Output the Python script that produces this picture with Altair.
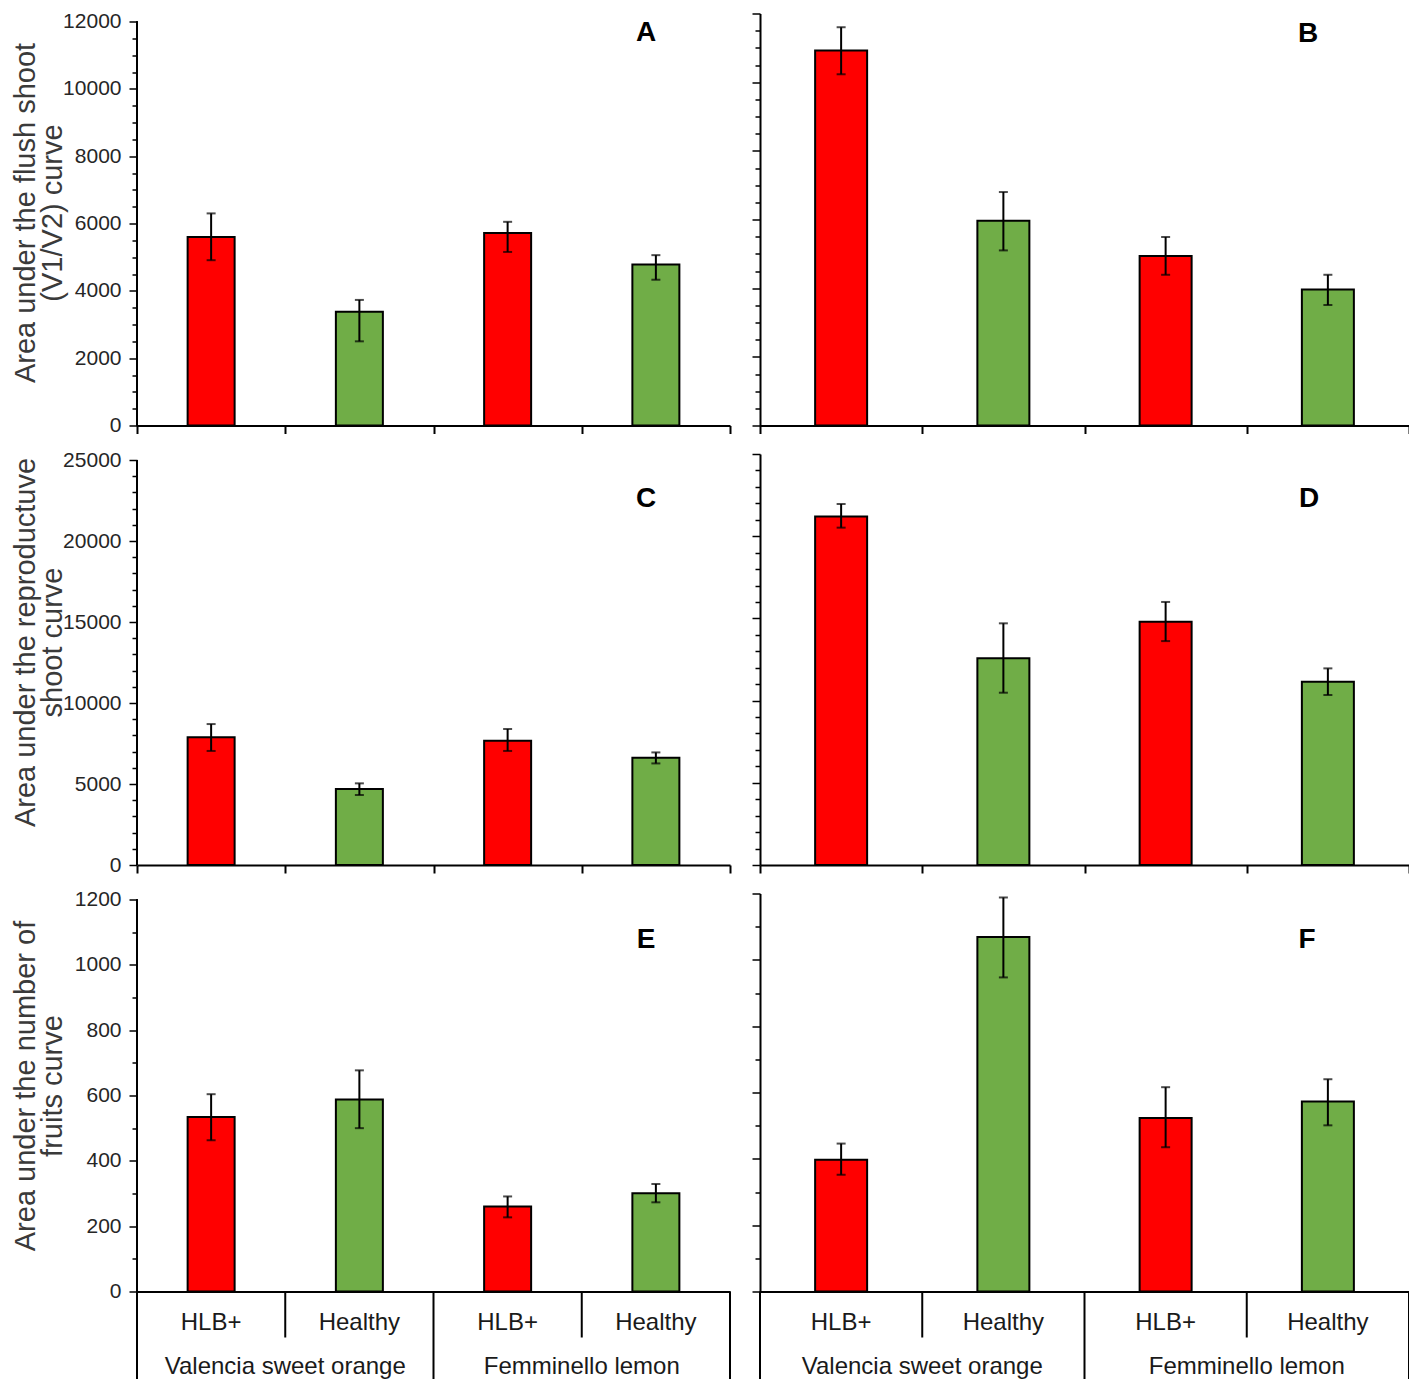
import altair as alt
import pandas as pd

# ---------------- data ----------------
treatments = ["HLB+", "Healthy", "HLB+", "Healthy"]
species = ["Valencia sweet orange", "Femminello lemon"]
bar_pos = [0.5, 1.5, 2.5, 3.5]
species_pos = [1, 3]
long_bounds = [0, 2, 4]
short_bounds = [1, 3]
x_bounds = [0, 1, 2, 3, 4]

A_mean = [5600, 3380, 5720, 4780]
A_lo = [4910, 2500, 5155, 4330]
A_hi = [6300, 3730, 6050, 5060]

B_mean = [10920, 5960, 4940, 3960]
B_lo = [10230, 5100, 4390, 3510]
B_hi = [11600, 6800, 5490, 4390]

C_mean = [7880, 4690, 7675, 6625]
C_lo = [7040, 4320, 7040, 6270]
C_hi = [8700, 5040, 8395, 6950]

D_mean = [21200, 12580, 14790, 11140]
D_lo = [20520, 10480, 13620, 10340]
D_hi = [21960, 14700, 16000, 11960]

E_mean = [534, 588, 260, 301]
E_lo = [463, 500, 227, 273]
E_hi = [604, 677, 291, 329]

F_mean = [397, 1069, 523, 573]
F_lo = [352, 947, 435, 501]
F_hi = [446, 1188, 616, 640]

row_max = [12000, 25000, 1200]
row_major = [2000, 5000, 200]
row_minor = [500, 1000, 100]
row_titles = [
    ["Area under the flush shoot", "(V1/V2) curve"],
    ["Area under the reproductuve", "shoot curve"],
    ["Area under the number of", "fruits curve"],
]
letters = [["A", "B"], ["C", "D"], ["E", "F"]]

# ---------------- style ----------------
FONT = "Liberation Sans"
RED = "#FF0000"
GREEN = "#70AD47"
ROW_H = [412, 411, 398]
LEFT_W, RIGHT_W = 593, 649
LEFT_TOP = [8, 6, 6]          # left axis starts this many px below the row top
TITLE_Y = [199, 188, 192]
LETTER_X = [[509, 548], [509, 549], [509, 547]]
LETTER_Y = [[27, 28], [53, 53], [54, 54]]


def panel(mean, lo, hi, r, left, bottom):
    H = ROW_H[r]
    W = LEFT_W if left else RIGHT_W
    barw = 47 if left else 52
    c = 0 if left else 1
    ymax, major, minor = row_max[r], row_major[r], row_minor[r]
    df = pd.DataFrame({"pos": bar_pos, "treat": treatments, "mean": mean, "lo": lo, "hi": hi})

    top_dom = ymax * H / (H - LEFT_TOP[r]) if left else ymax
    xs = alt.Scale(domain=[0, 4], nice=False, zero=False, padding=0)
    ys = alt.Scale(domain=[0, top_dom], nice=False, padding=0)

    y_kw = dict(
        values=list(range(0, ymax + 1, minor)),
        tickSize={"condition": {"test": f"datum.value % {major} === 0", "value": 8}, "value": 5},
        tickColor="black",
        tickWidth=1.5,
        grid=False,
    )
    if left:
        y_kw.update(
            domain=False,
            labelExpr=f"datum.value % {major} === 0 ? datum.label : ''",
            labelOverlap=False,
            format="d",
            labelFontSize=21,
            labelFont=FONT,
            labelColor="#262626",
            labelPadding=8,
            titleFontSize=29,
            titleFont=FONT,
            titleFontWeight="normal",
            titleColor="#3a3a3a",
            titleAngle=270,
            titleX=-111.5,
            titleY=TITLE_Y[r],
            titleAlign="center",
            titleBaseline="middle",
            titleLineHeight=27,
        )
        ytitle = row_titles[r]
    else:
        y_kw.update(labels=False, domainColor="black", domainWidth=2)
        ytitle = None
    yaxis = alt.Axis(**y_kw)

    x_kw = dict(values=x_bounds, labels=False, domainColor="black", domainWidth=2, grid=False)
    if bottom:
        x_kw["ticks"] = False
    else:
        x_kw.update(tickSize=8, tickColor="black", tickWidth=2)
    xaxis = alt.Axis(**x_kw)

    X = alt.X("pos:Q", scale=xs, axis=xaxis, title=None)
    base = alt.Chart(df)
    bars = base.mark_bar(size=barw, stroke="black", strokeWidth=2).encode(
        x=X,
        y=alt.Y("mean:Q", scale=ys, axis=yaxis, title=ytitle),
        color=alt.Color("treat:N", scale=alt.Scale(domain=["HLB+", "Healthy"], range=[RED, GREEN]), legend=None),
    )
    err = base.mark_rule(color="black", strokeWidth=2).encode(
        x=X, y=alt.Y("lo:Q", scale=ys, axis=yaxis, title=ytitle), y2="hi:Q"
    )
    cap_lo = base.mark_tick(orient="horizontal", size=9, thickness=2, color="black").encode(
        x=X, y=alt.Y("lo:Q", scale=ys, axis=yaxis, title=ytitle)
    )
    cap_hi = base.mark_tick(orient="horizontal", size=9, thickness=2, color="black").encode(
        x=X, y=alt.Y("hi:Q", scale=ys, axis=yaxis, title=ytitle)
    )
    layers = [bars, err, cap_lo, cap_hi]

    if left:
        yline = alt.Chart(df).mark_rule(color="black", strokeWidth=2).encode(
            x=alt.XDatum(0, type="quantitative", scale=xs, axis=xaxis, title=None),
            y=alt.YDatum(0, type="quantitative", scale=ys, axis=yaxis, title=ytitle),
            y2=alt.datum(ymax),
        )
        layers.append(yline)

    letter = alt.Chart(pd.DataFrame({"lab": [letters[r][c]]})).mark_text(
        fontSize=28, fontWeight="bold", font=FONT, color="black", align="center", baseline="alphabetic"
    ).encode(x=alt.value(LETTER_X[r][c]), y=alt.value(LETTER_Y[r][c]), text="lab:N")
    layers.append(letter)

    if bottom:
        tdf = pd.DataFrame({"pos": bar_pos, "treat": treatments})
        tl = alt.Chart(tdf).mark_text(
            fontSize=24, font=FONT, color="#1a1a1a", baseline="middle", align="center"
        ).encode(x=X, y=alt.value(H + 31), text="treat:N")
        gdf = pd.DataFrame({"pos": species_pos, "sp": species})
        gl = alt.Chart(gdf).mark_text(
            fontSize=24, font=FONT, color="#1a1a1a", baseline="middle", align="center"
        ).encode(x=X, y=alt.value(H + 75), text="sp:N")
        rl = alt.Chart(pd.DataFrame({"pos": long_bounds})).mark_rule(color="black", strokeWidth=2).encode(
            x=X, y=alt.value(H), y2=alt.value(H + 110)
        )
        rs = alt.Chart(pd.DataFrame({"pos": short_bounds})).mark_rule(color="black", strokeWidth=2).encode(
            x=X, y=alt.value(H), y2=alt.value(H + 46)
        )
        layers += [rl, rs, tl, gl]

    return alt.layer(*layers).properties(width=W, height=H)


panels = [
    panel(A_mean, A_lo, A_hi, 0, True, False), panel(B_mean, B_lo, B_hi, 0, False, False),
    panel(C_mean, C_lo, C_hi, 1, True, False), panel(D_mean, D_lo, D_hi, 1, False, False),
    panel(E_mean, E_lo, E_hi, 2, True, True), panel(F_mean, F_lo, F_hi, 2, False, True),
]

chart = alt.concat(
    *panels,
    columns=2,
    spacing={"row": 28.5, "column": 30},
    bounds="flush",
    align="each",
    padding={"left": 3, "top": 1.5, "right": -1, "bottom": 0},
).configure_view(stroke=None)

chart.save("out.html", embed_options={"renderer": "svg", "actions": False})
